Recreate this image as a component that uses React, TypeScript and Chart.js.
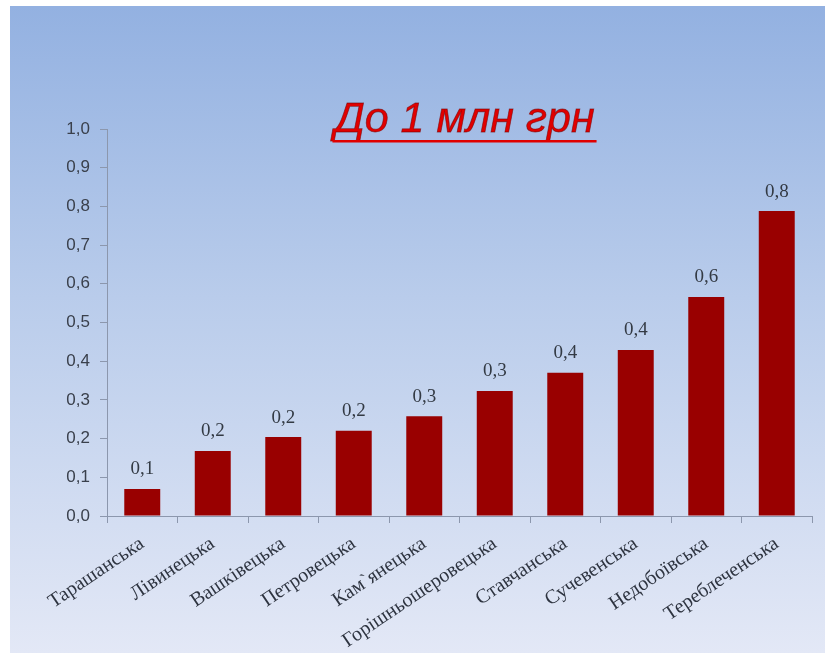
import React, { useEffect, useRef } from "react";
import { Chart, registerables } from "chart.js";

Chart.register(...registerables);

const categories = [
  "Тарашанська",
  "Лівинецька",
  "Вашківецька",
  "Петровецька",
  "Кам`янецька",
  "Горішньошеровецька",
  "Ставчанська",
  "Сучевенська",
  "Недобоївська",
  "Тереблеченська",
];
const values = [0.07, 0.168, 0.204, 0.22, 0.258, 0.323, 0.37, 0.429, 0.566, 0.788];
const yTicks = [0, 0.1, 0.2, 0.3, 0.4, 0.5, 0.6, 0.7, 0.8, 0.9, 1.0];
const titleText = "До 1 млн грн";

const fmt = (v: number) => v.toFixed(1).replace(".", ",");

const W = 825;
const H = 653;

const bgPlugin = {
  id: "bgPanel",
  beforeDraw(chart: any) {
    const ctx = chart.ctx;
    ctx.save();
    ctx.fillStyle = "#ffffff";
    ctx.fillRect(0, 0, chart.width, chart.height);
    const g = ctx.createLinearGradient(0, 6, 0, chart.height);
    g.addColorStop(0, "#93b1e1");
    g.addColorStop(0.45, "#b9cceb");
    g.addColorStop(1, "#e3e8f6");
    ctx.fillStyle = g;
    ctx.fillRect(10, 6, chart.width - 10, chart.height - 6);
    ctx.restore();
  },
};

const titlePlugin = {
  id: "ulTitle",
  afterDraw(chart: any) {
    const ctx = chart.ctx;
    const area = chart.chartArea;
    ctx.save();
    ctx.font = "italic 43px 'Liberation Sans', Arial, sans-serif";
    ctx.textAlign = "center";
    ctx.textBaseline = "alphabetic";
    const cx = (area.left + area.right) / 2 + 5;
    const by = area.top + 3;
    ctx.fillStyle = "#e00000";
    ctx.strokeStyle = "rgba(110,0,0,0.6)";
    ctx.lineWidth = 0.8;
    ctx.fillText(titleText, cx, by);
    ctx.strokeText(titleText, cx, by);
    const w = ctx.measureText(titleText).width;
    ctx.fillRect(cx - w / 2 - 2, by + 8, w + 4, 2.5);
    ctx.restore();
  },
};

const labelPlugin = {
  id: "barLabels",
  afterDatasetsDraw(chart: any) {
    const ctx = chart.ctx;
    const meta = chart.getDatasetMeta(0);
    ctx.save();
    ctx.font = "19px 'Liberation Serif', 'Times New Roman', serif";
    ctx.fillStyle = "#333a44";
    ctx.textAlign = "center";
    ctx.textBaseline = "bottom";
    meta.data.forEach((el: any, i: number) => {
      ctx.fillText(fmt(values[i]), el.x, el.y - 10);
    });
    ctx.restore();
  },
};

export default function App() {
  const ref = useRef<HTMLCanvasElement | null>(null);
  useEffect(() => {
    if (!ref.current) return;
    const chart = new Chart(ref.current, {
      type: "bar",
      data: {
        labels: categories,
        datasets: [
          {
            data: values,
            backgroundColor: "#990000",
            borderColor: "#8a0000",
            borderWidth: 0,
            categoryPercentage: 0.51,
            barPercentage: 1,
          },
        ],
      },
      options: {
        responsive: false,
        animation: false,
        devicePixelRatio: 1,
        layout: { padding: { left: 0, top: 129, right: 13, bottom: 0 } },
        plugins: {
          legend: { display: false },
          title: { display: false },
          tooltip: { enabled: false },
        },
        scales: {
          x: {
            afterFit: (s: any) => {
              s.height = H - 516;
            },
            grid: {
              offset: true,
              drawOnChartArea: false,
              drawTicks: true,
              tickLength: 7,
              color: "#8c97ad",
            },
            border: { color: "#8c97ad", width: 1 },
            ticks: {
              minRotation: 34,
              maxRotation: 34,
              autoSkip: false,
              padding: 9,
              color: "#2e3440",
              font: { family: "'Liberation Serif', 'Times New Roman', serif", size: 20 },
            },
          },
          y: {
            min: 0,
            max: 1,
            afterFit: (s: any) => {
              s.width = 107;
            },
            afterBuildTicks: (s: any) => {
              s.ticks = yTicks.map((v) => ({ value: v }));
            },
            grid: {
              drawOnChartArea: false,
              drawTicks: true,
              tickLength: 7,
              color: "#8c97ad",
            },
            border: { color: "#8c97ad", width: 1 },
            ticks: {
              padding: 10,
              color: "#3a404c",
              font: { family: "'Liberation Sans', Arial, sans-serif", size: 17 },
              callback: (v: any) => fmt(Number(v)),
            },
          },
        },
      },
      plugins: [bgPlugin, titlePlugin, labelPlugin],
    });
    return () => chart.destroy();
  }, []);
  return (
    <div style={{ position: "fixed", left: 0, top: 0, width: W, height: H }}>
      <canvas ref={ref} width={W} height={H} style={{ display: "block" }} />
    </div>
  );
}
